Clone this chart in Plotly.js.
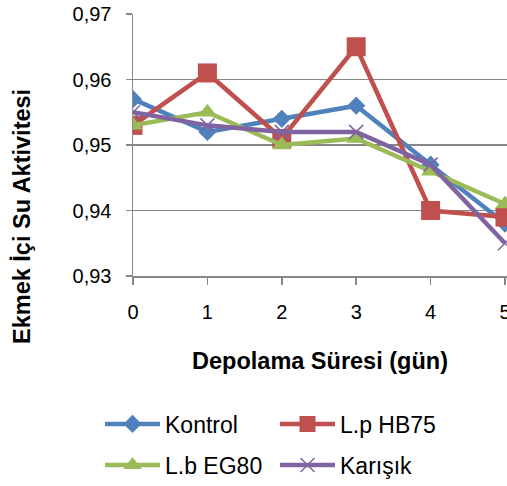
<!DOCTYPE html>
<html>
<head>
<meta charset="utf-8">
<script src="https://cdn.plot.ly/plotly-3.0.1.min.js"></script>
<style>html,body{margin:0;padding:0;background:#fff;}#chart{width:507px;height:486px;}</style>
</head>
<body>
<div id="chart"></div>
<script>
const days = [0, 1, 2, 3, 4, 5];
const kontrol = [0.957, 0.952, 0.954, 0.956, 0.947, 0.938];
const lpHB75 = [0.953, 0.961, 0.951, 0.965, 0.940, 0.939];
const lbEG80 = [0.953, 0.955, 0.950, 0.951, 0.946, 0.941];
const karisik = [0.955, 0.953, 0.952, 0.952, 0.947, 0.935];
const seriesNames = ['Kontrol', 'L.p HB75', 'L.b EG80', 'Karışık'];
const yTicks = [0.93, 0.94, 0.95, 0.96, 0.97];
const xTicks = [0, 1, 2, 3, 4, 5];

const FONT = 'Liberation Sans, Arial, sans-serif';
const GRID = '#878787';

const traces = [
  {x: days, y: kontrol, name: seriesNames[0], mode: 'lines+markers',
   line: {color: '#4F81BD', width: 4.5},
   marker: {symbol: 'diamond', size: 14, color: '#4F81BD'}, legend: 'legend'},
  {x: days, y: lpHB75, name: seriesNames[1], mode: 'lines+markers',
   line: {color: '#C0504D', width: 4.5},
   marker: {symbol: 'square', size: 19, color: '#C0504D'}, legend: 'legend'},
  {x: days, y: lbEG80, name: seriesNames[2], mode: 'lines+markers',
   line: {color: '#9BBB59', width: 4.5},
   marker: {symbol: 'triangle-up', size: 17, color: '#9BBB59'}, legend: 'legend2'},
  {x: days, y: karisik, name: seriesNames[3], mode: 'lines+markers',
   line: {color: '#8064A2', width: 4.5},
   marker: {symbol: 'x-thin', size: 14, color: '#8064A2', line: {color: '#8064A2', width: 1.5}}, legend: 'legend2'}
];

const legendCommon = {
  orientation: 'h', xref: 'container', yref: 'container',
  xanchor: 'left', yanchor: 'middle',
  font: {family: FONT, size: 23, color: '#000'},
  itemwidth: 55, entrywidth: 105, entrywidthmode: 'pixels',
  bgcolor: 'rgba(0,0,0,0)', borderwidth: 0,
  itemclick: false, itemdoubleclick: false
};

const layout = {
  width: 507, height: 486,
  margin: {l: 133, r: 0, t: 14, b: 210},
  paper_bgcolor: '#fff', plot_bgcolor: '#fff',
  separators: ', ',
  font: {family: FONT, size: 20, color: '#000'},
  showlegend: true,
  legend: Object.assign({}, legendCommon, {x: 100/507, y: 1 - 424/486}),
  legend2: Object.assign({}, legendCommon, {x: 100/507, y: 1 - 465/486}),
  xaxis: {
    range: [0, 5.027], tickvals: xTicks, ticktext: xTicks.map(String),
    showgrid: false, zeroline: false,
    showline: true, linecolor: GRID, linewidth: 1.5,
    ticks: 'outside', ticklen: 7, tickcolor: GRID, tickwidth: 1.5,
    tickfont: {family: FONT, size: 20, color: '#000'},
    ticklabelstandoff: 10, ticklabeloverflow: 'allow',
    title: {text: 'Depolama Süresi (gün)', font: {family: FONT, size: 23.5, color: '#000', weight: 'bold'}, standoff: 31}
  },
  yaxis: {
    range: [0.93, 0.97], tickvals: yTicks, tickformat: '.2f',
    showgrid: true, gridcolor: GRID, gridwidth: 1.5, zeroline: false,
    showline: true, linecolor: GRID, linewidth: 1.5,
    ticks: 'outside', ticklen: 6, tickcolor: GRID, tickwidth: 1.5,
    tickfont: {family: FONT, size: 20, color: '#000'},
    ticklabelstandoff: 10
  },
  annotations: [{
    text: 'Ekmek İçi Su Aktivitesi', textangle: -90,
    xref: 'paper', yref: 'paper', x: (22 - 133) / 374, y: (276 - 216) / 262,
    xanchor: 'center', yanchor: 'middle', showarrow: false,
    font: {family: FONT, size: 23.5, color: '#000', weight: 'bold'}
  }]
};

Plotly.newPlot('chart', traces, layout, {displayModeBar: false, staticPlot: true});
</script>
</body>
</html>
